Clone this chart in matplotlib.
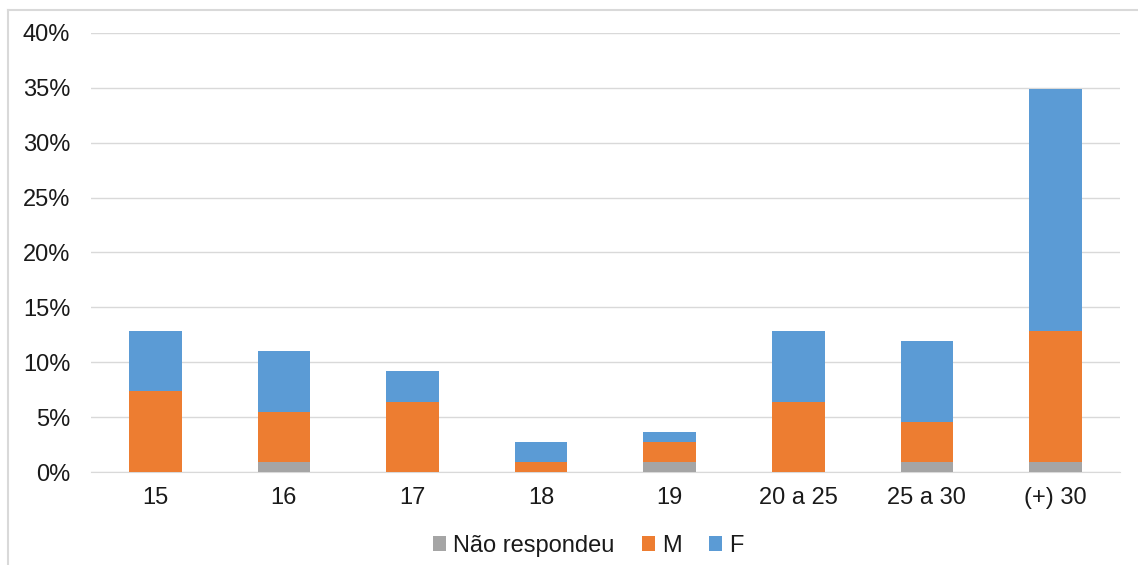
import matplotlib
matplotlib.use("Agg")
from matplotlib import pyplot as plt
from matplotlib.lines import Line2D
import numpy as np

# Faixa etária x sexo (% do total de respostas)
categorias = ["15", "16", "17", "18", "19", "20 a 25", "25 a 30", "(+) 30"]
nao_respondeu = [0.0, 0.92, 0.0, 0.0, 0.92, 0.0, 0.92, 0.92]
masculino = [7.34, 4.59, 6.42, 0.92, 1.83, 6.42, 3.67, 11.93]
feminino = [5.50, 5.50, 2.75, 1.83, 0.92, 6.42, 7.34, 22.02]

cor_nr = "#a5a5a5"
cor_m = "#ed7d31"
cor_f = "#5b9bd5"

plt.rcParams["font.family"] = ["Liberation Sans", "DejaVu Sans"]

fig = plt.figure(figsize=(11.38, 5.65), dpi=100)
ax = fig.add_axes([0.080, 0.1646, 0.904, 0.777])

x = np.arange(len(categorias))
nr = np.array(nao_respondeu)
m = np.array(masculino)
f = np.array(feminino)
w = 0.41

ax.bar(x, nr, w, color=cor_nr, label="Não respondeu", zorder=3)
ax.bar(x, m, w, bottom=nr, color=cor_m, label="M", zorder=3)
ax.bar(x, f, w, bottom=nr + m, color=cor_f, label="F", zorder=3)

ax.set_xlim(-0.5, len(categorias) - 0.5)
ax.set_ylim(0, 40)
ax.set_yticks(np.arange(0, 41, 5))
ax.set_yticklabels([f"{v}%" for v in range(0, 41, 5)])
ax.set_xticks(x)
ax.set_xticklabels(categorias)
ax.tick_params(axis="both", length=0, labelsize=17, colors="#1a1a1a")
ax.tick_params(axis="x", pad=11)
ax.tick_params(axis="y", pad=15)
ax.grid(axis="y", color="#d9d9d9", linewidth=1, zorder=0)
for s in ["top", "right", "left"]:
    ax.spines[s].set_visible(False)
ax.spines["bottom"].set_color("#d9d9d9")

leg = fig.legend(loc="center", bbox_to_anchor=(0.517, 0.034), ncol=3, frameon=False,
                 fontsize=17, handlelength=0.55, handleheight=0.55, handletextpad=0.3,
                 columnspacing=1.15, labelcolor="#1a1a1a")

# moldura do gráfico
fig.add_artist(Line2D([8 / 1138, 8 / 1138], [0, 555 / 565], color="#d9d9d9", lw=1.5,
                      transform=fig.transFigure))
fig.add_artist(Line2D([8 / 1138, 1], [555 / 565, 555 / 565], color="#d9d9d9", lw=1.5,
                      transform=fig.transFigure))

fig.savefig("out.png", dpi=100)
